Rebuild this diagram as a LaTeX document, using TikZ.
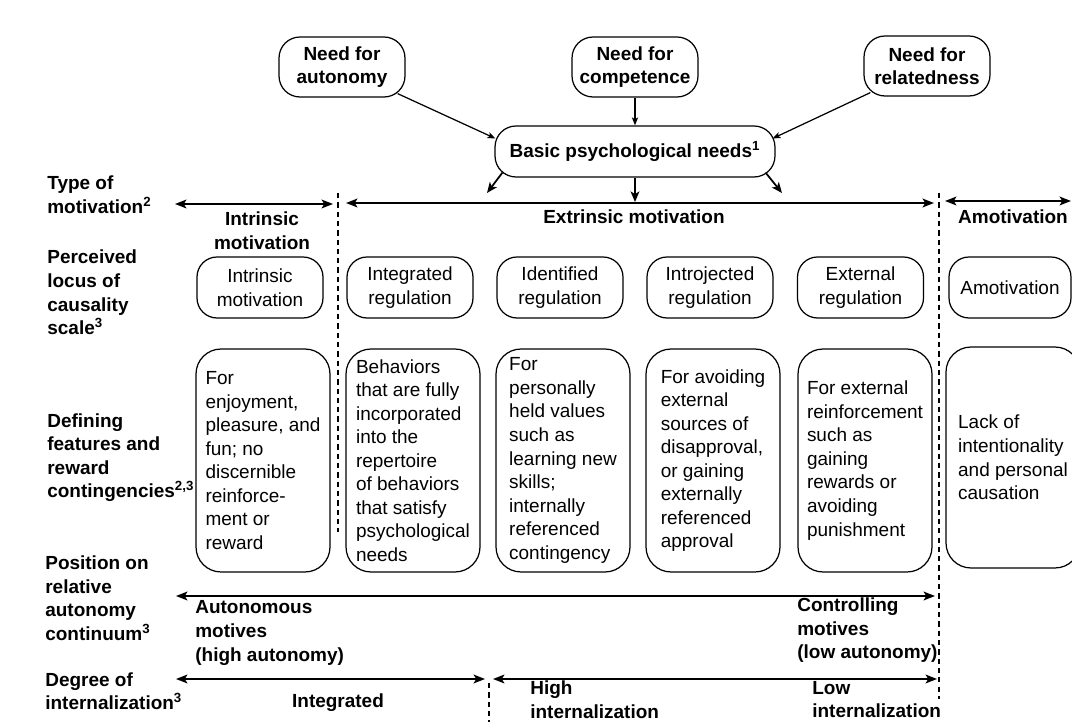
\documentclass[tikz,border=0pt]{standalone}
\usepackage{fontspec}
\setmainfont{Liberation Sans}
\usetikzlibrary{arrows.meta}

\newcommand{\bodyfont}{\fontsize{10.8}{13.4}\selectfont}

\tikzset{
  lbl/.style={font=\bodyfont\bfseries, align=left, anchor=west, inner sep=0pt},
  head/.style={font=\bodyfont\bfseries, align=center, inner sep=0pt},
  need/.style={draw, line width=0.7pt, rounded corners=0.42cm, minimum width=2.52cm,
    minimum height=1.2cm, font=\bodyfont\bfseries, align=center, inner sep=0pt},
  locus/.style={draw, line width=0.7pt, rounded corners=0.4cm, minimum width=2.52cm,
    minimum height=1.22cm, font=\bodyfont, align=center, inner sep=0pt},
  feat/.style={draw, line width=0.7pt, rounded corners=0.5cm, minimum width=2.68cm,
    minimum height=4.46cm, font=\bodyfont, align=left, inner sep=0pt},
  axis/.style={line width=1pt, {Stealth[length=6.5pt,width=5pt,inset=1.5pt]}-{Stealth[length=6.5pt,width=5pt,inset=1.5pt]}},
  sep/.style={line width=0.9pt, dash pattern=on 3pt off 2.3pt},
  feed/.style={line width=0.7pt, -{Stealth[length=4.5pt,width=3.5pt,inset=1pt]}},
  down/.style={line width=1pt, -{Stealth[length=6pt,width=5pt,inset=1.5pt]}}
}

\begin{document}
\begin{tikzpicture}[x=0.02cm, y=-0.02cm]
  \useasboundingbox (0,0) rectangle (1072,722);

  \node[need] (aut) at (342,67) {Need for\\autonomy};
  \node[need] (comp) at (635,67) {Need for\\competence};
  \node[need] (rel) at (927,66) {Need for\\relatedness};
  \node[need, minimum width=5.6cm, minimum height=1.02cm] (basic) at (635,151.5)
    {Basic psychological needs\textsuperscript{1}};

  \draw[feed] ([shift={(-8,-4)}]aut.south east) -- ([shift={(1,-13)}]basic.west);
  \draw[feed] (comp) -- (basic);
  \draw[feed] ([shift={(7,-4)}]rel.south west) -- ([shift={(-3,-13)}]basic.east);

  \coordinate (d1) at (487,193);
  \coordinate (d2) at (635,202);
  \coordinate (d3) at (782,193);
  \draw[down] ([shift={(8,-5)}]basic.south west) -- (d1);
  \draw[down] (basic.south) -- (d2);
  \draw[down] ([shift={(-10,-5)}]basic.south east) -- (d3);

  \node[lbl] (ltype) at (47,194.5) {Type of\\motivation\textsuperscript{2}};
  \node[lbl] (llocus) at (47,292.5) {Perceived\\locus of\\causality\\scale\textsuperscript{3}};
  \node[lbl] (lfeat) at (47,457.5) {Defining\\features and\\reward\\contingencies\textsuperscript{2,3}};
  \node[lbl] (lpos) at (45,598) {Position on\\relative\\autonomy\\continuum\textsuperscript{3}};
  \node[lbl] (ldeg) at (45,691) {Degree of\\internalization\textsuperscript{3}};

  \coordinate (t1) at (175,204);
  \coordinate (t2) at (333,204);
  \coordinate (t3) at (346,203);
  \coordinate (t4) at (934,203);
  \coordinate (t5) at (945,201);
  \coordinate (t6) at (1071,201);
  \draw[axis] (t1) -- (t2);
  \draw[axis] (t3) -- (t4);
  \draw[axis] (t5) -- (t6);

  \coordinate (s1) at (338,193);
  \coordinate (s2) at (338,532);
  \coordinate (s3) at (939,193);
  \coordinate (s4) at (939,699);
  \coordinate (s5) at (489,683);
  \coordinate (s6) at (489,722);
  \draw[sep] (s1) -- (s2);
  \draw[sep] (s3) -- (s4);
  \draw[sep] (s5) -- (s6);

  \node[head] (hint) at (262,230.5) {Intrinsic\\motivation};
  \node[head] (hext) at (634,217) {Extrinsic motivation};
  \node[head] (hamo) at (1013,217) {Amotivation};

  \node[locus] (l1) at (260,287.5) {Intrinsic\\motivation};
  \node[locus] (l2) at (410,287.5) {Integrated\\regulation};
  \node[locus] (l3) at (560,287.5) {Identified\\regulation};
  \node[locus] (l4) at (710,287.5) {Introjected\\regulation};
  \node[locus] (l5) at (860.5,287.5) {External\\regulation};
  \node[locus, minimum width=2.44cm] (l6) at (1010,287.5) {Amotivation};

  \node[feat] (f1) at (263,460.5) {For\\enjoyment,\\pleasure, and\\fun; no\\discernible\\reinforce-\\ment or\\reward};
  \node[feat] (f2) at (413,460.5) {Behaviors\\that are fully\\incorporated\\into the\\repertoire\\of behaviors\\that satisfy\\psychological\\needs};
  \node[feat] (f3) at (563,460.5) {For\\personally\\held values\\such as\\learning new\\skills;\\internally\\referenced\\contingency};
  \node[feat] (f4) at (713,460.5) {For avoiding\\external\\sources of\\disapproval,\\or gaining\\externally\\referenced\\approval};
  \node[feat] (f5) at (865,460.5) {For external\\reinforcement\\such as\\gaining\\rewards or\\avoiding\\punishment};
  \node[feat, minimum height=4.42cm] (f6) at (1013,457.5) {Lack of\\intentionality\\and personal\\causation};

  \coordinate (a1) at (176,596);
  \coordinate (a2) at (935,596);
  \draw[axis] (a1) -- (a2);
  \node[lbl] (aaut) at (195,633) {Autonomous\\motives\\(high autonomy)};
  \node[lbl] (actl) at (797,630.5) {Controlling\\motives\\(low autonomy)};

  \coordinate (g1) at (176,679);
  \coordinate (g2) at (485,679);
  \coordinate (g3) at (493,679);
  \coordinate (g4) at (937,679);
  \draw[axis] (g1) -- (g2);
  \draw[axis] (g3) -- (g4);
  \node[head] (gint) at (338,703) {Integrated};
  \node[lbl] (ghigh) at (530,699.5) {High\\internalization};
  \node[lbl] (glow) at (812,699.5) {Low\\internalization};
\end{tikzpicture}
\end{document}
